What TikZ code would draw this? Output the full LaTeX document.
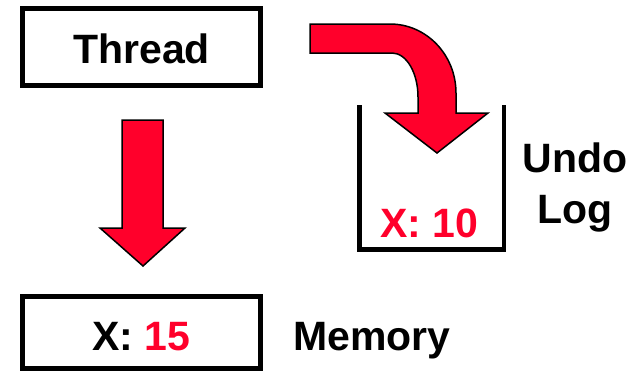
\documentclass[tikz,border=0pt]{standalone}
\usepackage{fontspec}
\setmainfont{Liberation Sans}
\begin{document}
\definecolor{hotred}{RGB}{255,0,43}
\begin{tikzpicture}[x=1pt,y=-1pt,
  labeltext/.style={inner sep=0pt,font=\fontsize{41}{51}\selectfont\bfseries},
  framebox/.style={draw=black,line width=5pt,inner sep=0pt},
  blockarrow/.style={fill=hotred,draw=black,line width=1.5pt,line join=miter}]
  \useasboundingbox (0,0) rectangle (641,373);

  % thread box
  \node[framebox,minimum width=238pt,minimum height=77pt] (threadbox) at (141.5,47) {};
  \node[labeltext,anchor=base] (thread) at (141.5,63) {Thread};

  % memory box
  \node[framebox,minimum width=238pt,minimum height=72pt] (membox) at (141.5,332.5) {};
  \node[labeltext,anchor=base] (memval) at (141.5,350) {X: \textcolor{hotred}{15}};
  \node[labeltext,anchor=base west] (memlabel) at (293,350) {Memory};

  % undo log bucket
  \draw[line width=4.5pt] (359.5,105) -- (359.5,249.5) -- (504,249.5) -- (504,105);
  \node[labeltext,anchor=base,text=hotred] (logval) at (429,237) {X: 10};
  \node[labeltext,anchor=base] (undolabel) at (575,172) {Undo};
  \node[labeltext,anchor=base] (loglabel) at (575,223) {Log};

  % write arrow: thread to memory
  \draw[blockarrow] (122,120) -- (163,120) -- (163,228) -- (185,228) -- (143,266)
    -- (100,228) -- (122,228) -- cycle;

  % logging arrow: thread to undo log
  \draw[blockarrow] (310,24) -- (390,24)
    .. controls (426.5,24) and (456,54.9) .. (456,93)
    -- (456,113) -- (488,113) -- (437,153) -- (385,113) -- (418,113) -- (418,97)
    .. controls (418,72.7) and (406.4,53) .. (392,53)
    -- (310,53) -- cycle;
\end{tikzpicture}
\end{document}
